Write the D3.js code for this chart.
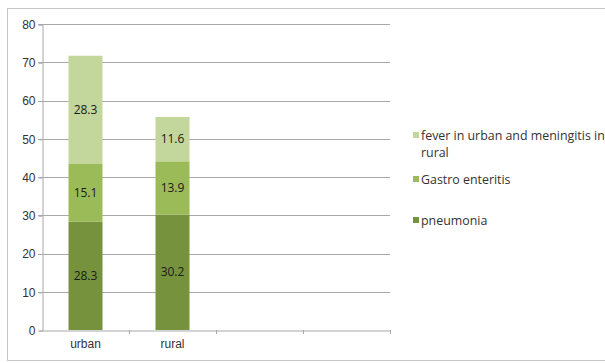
<!DOCTYPE html>
<html>
<head>
<meta charset="utf-8">
<script src="https://cdn.jsdelivr.net/npm/d3@7"></script>
<style>
  html, body { margin: 0; padding: 0; background: #fff; }
  svg { display: block; font-family: "Open Sans", "Noto Sans", sans-serif; }
</style>
</head>
<body>
<svg id="chart" width="605" height="363"></svg>
<script>
// Categories on the x axis (the last two slots are empty bands)
const categories = ["urban", "rural", "", " "];
// Stacked series, bottom to top
const seriesNames = ["pneumonia", "Gastro enteritis", "fever in urban and meningitis in rural"];
const pneumonia = [28.3, 30.2];
const gastroEnteritis = [15.1, 13.9];
const feverMeningitis = [28.3, 11.6];
const seriesColors = ["#76923c", "#9bbb59", "#c3d69b"];
const yTicks = [0, 10, 20, 30, 40, 50, 60, 70, 80];

const svg = d3.select("#chart");
const W = 605, H = 363;

// outer frame
svg.append("rect").attr("x", 7.5).attr("y", 8.5).attr("width", W).attr("height", 352)
  .attr("fill", "#fff").attr("stroke", "#c8c4c4").attr("stroke-width", 1);

const plot = { left: 42, right: 390, top: 24, bottom: 330 };

const x = d3.scaleBand().domain(categories).range([plot.left, plot.right]).paddingInner(0).paddingOuter(0);
const y = d3.scaleLinear().domain([0, 80]).range([plot.bottom, plot.top]);

// gridlines
svg.append("g").selectAll("line").data(yTicks.filter(d => d > 0)).join("line")
  .attr("x1", plot.left - 4).attr("x2", plot.right)
  .attr("y1", d => Math.round(y(d)) + 0.5).attr("y2", d => Math.round(y(d)) + 0.5)
  .attr("stroke", "#a8a8a8").attr("stroke-width", 1);

// y axis
const yAxis = d3.axisLeft(y).tickValues(yTicks).tickSize(4).tickPadding(3);
const gy = svg.append("g").attr("transform", `translate(${plot.left + 0.5},0.5)`).call(yAxis);
gy.select(".domain").attr("stroke", "#a8a8a8");
gy.selectAll(".tick line").attr("stroke", "#a8a8a8");
gy.selectAll(".tick text").attr("fill", "#333").attr("font-size", 12);

// stacked data
const rows = categories.slice(0, 2).map((c, i) => ({
  cat: c,
  pneumonia: pneumonia[i],
  gastro: gastroEnteritis[i],
  fever: feverMeningitis[i]
}));
const keys = ["pneumonia", "gastro", "fever"];
const stack = d3.stack().keys(keys)(rows);

const barW = 34;
const layers = svg.append("g").selectAll("g").data(stack).join("g")
  .attr("fill", (d, i) => seriesColors[i]);
layers.selectAll("rect").data(d => d).join("rect")
  .attr("x", d => x(d.data.cat) + x.bandwidth() / 2 - barW / 2)
  .attr("width", barW)
  .attr("y", d => y(d[1]))
  .attr("height", d => y(d[0]) - y(d[1]));

// value labels
layers.selectAll("text").data(d => d).join("text")
  .attr("x", d => x(d.data.cat) + x.bandwidth() / 2)
  .attr("y", d => (y(d[0]) + y(d[1])) / 2)
  .attr("dy", "0.35em")
  .attr("text-anchor", "middle")
  .attr("font-size", 12)
  .attr("fill", "#1a1a1a")
  .text(d => (d[1] - d[0]).toFixed(1));

// x axis
const xAxis = d3.axisBottom(x).tickSize(0).tickPadding(9);
const gx = svg.append("g").attr("transform", `translate(0,${plot.bottom + 0.5})`).call(xAxis);
gx.select(".domain").attr("stroke", "#a8a8a8");
gx.selectAll(".tick text").attr("fill", "#333").attr("font-size", 12);
// band boundary ticks
svg.append("g").selectAll("line").data(categories.slice(1).concat(["end"])).join("line")
  .attr("x1", d => d === "end" ? plot.right + 0.5 : Math.round(x(d)) + 0.5)
  .attr("x2", d => d === "end" ? plot.right + 0.5 : Math.round(x(d)) + 0.5)
  .attr("y1", plot.bottom).attr("y2", plot.bottom + 4)
  .attr("stroke", "#a8a8a8");

// legend (top to bottom: fever, gastro, pneumonia)
const legend = svg.append("g").attr("font-size", 12.4).attr("fill", "#333");
const legendItems = [
  { lines: ["fever in urban and meningitis in", "rural"], color: seriesColors[2], y: 136 },
  { lines: [seriesNames[1]], color: seriesColors[1], y: 180 },
  { lines: [seriesNames[0]], color: seriesColors[0], y: 221 }
];
legendItems.forEach(it => {
  legend.append("rect").attr("x", 413).attr("y", it.y - 4).attr("width", 6).attr("height", 6).attr("fill", it.color);
  const t = legend.append("text").attr("x", 421).attr("y", it.y).attr("dy", "0.35em");
  it.lines.forEach((ln, i) => t.append("tspan").attr("x", 421).attr("dy", i === 0 ? "0.35em" : "1.35em").text(ln));
});
</script>
</body>
</html>
